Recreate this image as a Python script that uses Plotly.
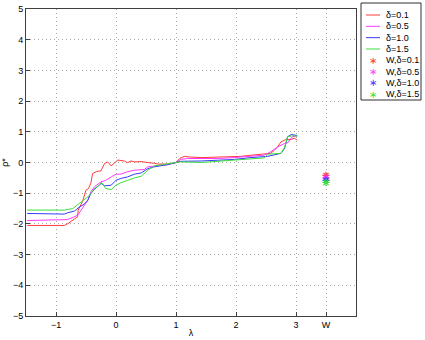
import plotly.graph_objects as go

# lambda values and rho* for each delta
lam_r = [-1.48, -0.86, -0.8, -0.72, -0.64, -0.63, -0.56, -0.5, -0.46, -0.42, -0.39, -0.33, -0.25, -0.19, -0.14, -0.08, -0.03, 0.03, 0.14, 0.19, 0.25, 0.31, 0.42, 0.53, 0.64, 0.7, 0.86, 1.0, 1.06, 1.14, 1.22, 1.42, 1.69, 1.97, 2.08, 2.22, 2.42, 2.53, 2.58, 2.64, 2.69, 2.75, 2.83, 2.92, 2.97, 3.02]
rho_r = [-2.05, -2.05, -1.99, -1.88, -1.77, -1.55, -1.28, -0.9, -0.85, -0.68, -0.36, -0.3, -0.27, -0.03, 0.02, -0.11, -0.03, 0.08, 0.05, -0.01, 0.05, 0.02, 0.03, 0.01, -0.03, -0.05, -0.05, 0.0, 0.13, 0.2, 0.18, 0.16, 0.17, 0.2, 0.2, 0.23, 0.26, 0.27, 0.3, 0.4, 0.5, 0.67, 0.75, 0.75, 0.79, 0.73]
lam_m = [-1.48, -0.92, -0.81, -0.72, -0.64, -0.58, -0.53, -0.47, -0.42, -0.36, -0.25, -0.17, -0.08, 0.0, 0.08, 0.19, 0.31, 0.47, 0.53, 0.64, 0.86, 1.0, 1.08, 1.19, 1.42, 1.69, 1.97, 2.25, 2.47, 2.58, 2.69, 2.81, 2.86, 2.94, 3.02]
rho_m = [-1.89, -1.88, -1.86, -1.79, -1.72, -1.55, -1.39, -1.23, -0.96, -0.79, -0.63, -0.58, -0.47, -0.38, -0.38, -0.3, -0.25, -0.23, -0.14, -0.11, -0.07, 0.0, 0.1, 0.13, 0.12, 0.13, 0.16, 0.2, 0.24, 0.35, 0.5, 0.62, 0.64, 0.84, 0.86]
lam_b = [-1.48, -0.86, -0.81, -0.69, -0.61, -0.53, -0.47, -0.42, -0.36, -0.25, -0.19, -0.08, 0.0, 0.08, 0.19, 0.31, 0.42, 0.53, 0.64, 0.86, 1.0, 1.08, 1.42, 1.69, 1.97, 2.25, 2.53, 2.75, 2.81, 2.86, 2.92, 3.02]
rho_b = [-1.66, -1.68, -1.64, -1.58, -1.45, -1.36, -1.23, -1.01, -0.88, -0.68, -0.76, -0.74, -0.58, -0.52, -0.47, -0.38, -0.34, -0.2, -0.14, -0.07, 0.0, 0.04, 0.05, 0.08, 0.1, 0.16, 0.2, 0.3, 0.46, 0.84, 0.91, 0.88]
lam_g = [-1.48, -0.86, -0.72, -0.61, -0.53, -0.44, -0.36, -0.28, -0.24, -0.17, -0.08, 0.0, 0.08, 0.19, 0.31, 0.42, 0.53, 0.64, 0.86, 1.0, 1.08, 1.42, 1.69, 1.97, 2.25, 2.47, 2.53, 2.75, 2.81, 2.86, 2.94, 3.02]
rho_g = [-1.55, -1.55, -1.5, -1.32, -1.21, -1.07, -0.85, -0.74, -0.65, -0.85, -0.88, -0.74, -0.66, -0.58, -0.5, -0.45, -0.25, -0.11, -0.05, 0.0, 0.02, 0.0, 0.04, 0.08, 0.13, 0.15, 0.27, 0.3, 0.5, 0.84, 0.87, 0.86]

w_x = 3.5
w_vals = [-0.42, -0.5, -0.58, -0.65]

names = ["δ=0.1", "δ=0.5", "δ=1.0", "δ=1.5"]
wnames = ["W,δ=0.1", "W,δ=0.5", "W,δ=1.0", "W,δ=1.5"]
colors = ["#ff3a3a", "#ff3aff", "#3a3aff", "#3ae03a"]

x_tickvals = [-1, 0, 1, 2, 3, 3.5]
x_ticktext = ["\u22121", "0", "1", "2", "3", "W"]
y_tickvals = [-5, -4, -3, -2, -1, 0, 1, 2, 3, 4, 5]
y_ticktext = ["\u22125", "\u22124", "\u22123", "\u22122", "\u22121", "0", "1", "2", "3", "4", "5"]

W, H = 425, 340
ML, MR, MT, MB = 26, 69, 9, 24
PW, PH = W - ML - MR, H - MT - MB


def px(p):
    return (p - ML) / PW


def py(p):
    return (H - MB - p) / PH


fig = go.Figure()
for xs, ys, nm, c in zip([lam_r, lam_m, lam_b, lam_g], [rho_r, rho_m, rho_b, rho_g], names, colors):
    fig.add_trace(go.Scatter(x=xs, y=ys, mode="lines", name=nm,
                             line=dict(color=c, width=1)))
for v, nm, c in zip(w_vals, wnames, colors):
    fig.add_trace(go.Scatter(x=[w_x], y=[v], mode="markers", name=nm,
                             marker=dict(symbol="asterisk-open", size=6,
                                         color=c, line=dict(color=c, width=1.2))))

# hand-built compact legend (box, line samples, asterisks, labels)
shapes = [dict(type="rect", xref="paper", yref="paper",
               x0=px(361), x1=px(421), y0=py(100), y1=py(3),
               line=dict(color="#303030", width=1), fillcolor="white", layer="above")]
annotations = []
row_h = 11.33
for i, (nm, c) in enumerate(zip(names + wnames, colors + colors)):
    yc = 15 + i * row_h
    if i < 4:
        shapes.append(dict(type="line", xref="paper", yref="paper",
                           x0=px(366), x1=px(380), y0=py(yc), y1=py(yc),
                           line=dict(color=c, width=1), layer="above"))
    else:
        annotations.append(dict(xref="paper", yref="paper", x=px(373), y=py(yc),
                                text="\u2217", showarrow=False, xanchor="center",
                                yanchor="middle", font=dict(size=10, color=c)))
    annotations.append(dict(xref="paper", yref="paper", x=px(384), y=py(yc),
                            text=nm, showarrow=False, xanchor="left", yanchor="middle",
                            font=dict(size=9, color="black")))

axis_common = dict(showline=True, linecolor="#404040", linewidth=1, mirror=True,
                   ticks="inside", ticklen=4, tickcolor="#404040", automargin=False,
                   showgrid=True, gridcolor="#a8a8a8", griddash="1px,3px", gridwidth=1,
                   zeroline=False, tickfont=dict(size=9, color="black"))

fig.update_layout(
    width=W, height=H,
    margin=dict(l=ML, r=MR, t=MT, b=MB, autoexpand=False),
    plot_bgcolor="white", paper_bgcolor="white",
    font=dict(family="Liberation Sans, Arial, sans-serif", size=9, color="black"),
    xaxis=dict(range=[-1.5, 4], tickvals=x_tickvals, ticktext=x_ticktext,
               title=dict(text="λ", standoff=0, font=dict(size=9)), **axis_common),
    yaxis=dict(range=[-5, 5], tickvals=y_tickvals, ticktext=y_ticktext,
               title=dict(text="ρ*", standoff=2, font=dict(size=9)), **axis_common),
    showlegend=False,
    hovermode=False,
    shapes=shapes,
    annotations=annotations,
)

fig.write_html("out.html", config={"displayModeBar": False},
               post_script="document.body.style.margin='0';")
